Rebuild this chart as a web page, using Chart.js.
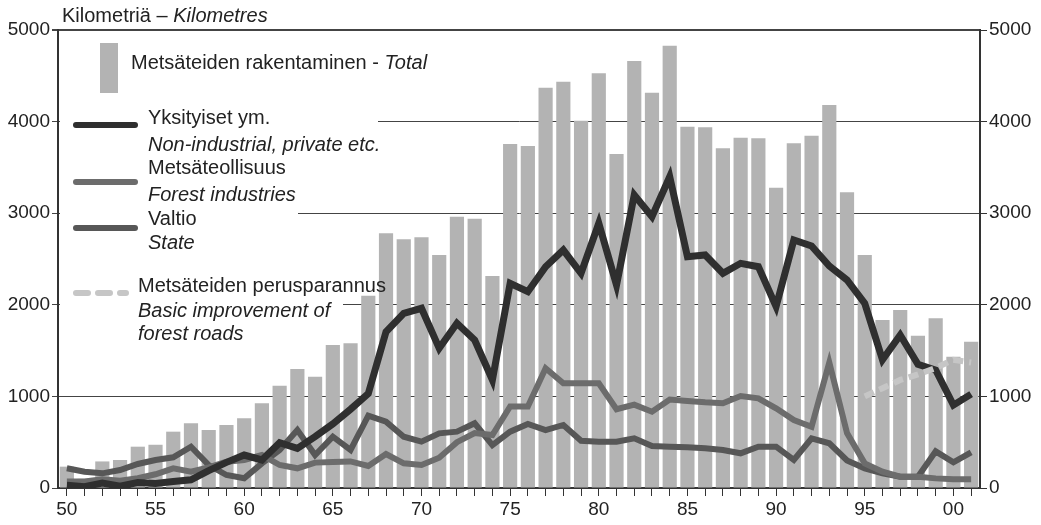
<!DOCTYPE html>
<html>
<head>
<meta charset="utf-8">
<script src="https://cdn.jsdelivr.net/npm/chart.js@4"></script>
<style>
  html, body { margin: 0; padding: 0; background: #fff; }
  #wrap { width: 1041px; height: 525px; }
</style>
</head>
<body>
<div id="wrap"><canvas id="roads" width="1041" height="525"></canvas></div>
<script>
// -----------------------------
// Data (km per year)
// -----------------------------
const years = [];
for (let y = 1950; y <= 2001; y++) years.push(y);

const xTickLabels = ["50", "55", "60", "65", "70", "75", "80", "85", "90", "95", "00"];
const yTicks = [0, 1000, 2000, 3000, 4000, 5000];

// Metsäteiden rakentaminen - Total
const totalKm = [
  233, 100, 290, 306, 451, 472, 615, 706, 633, 688,
  761, 924, 1117, 1299, 1215, 1561, 1579, 2100, 2780, 2715,
  2737, 2544, 2962, 2940, 2314, 3755, 3734, 4370, 4436, 4010,
  4527, 3646, 4662, 4316, 4829, 3944, 3937, 3708, 3824, 3817,
  3278, 3763, 3846, 4181, 3228, 2544, 1834, 1943, 1663, 1852,
  1433, 1597
];

// Yksityiset ym. - Non-industrial, private etc.
const privateKm = [
  30, 15, 55, 20, 60, 50, 70, 90, 190, 280,
  360, 306, 495, 433, 560, 700, 860, 1030, 1706, 1907,
  1962, 1525, 1798, 1616, 1179, 2235, 2143, 2416, 2598, 2344,
  2890, 2216, 3199, 2962, 3398, 2525, 2544, 2344, 2453, 2416,
  1980, 2707, 2642, 2424, 2271, 2016, 1400, 1670, 1350, 1288,
  905, 1025
];

// Metsäteollisuus - Forest industries
const industryKm = [
  70, 70, 95, 80, 106, 150, 215, 178, 226, 287,
  306, 360, 251, 215, 277, 284, 290, 240, 370, 269,
  251, 330, 500, 600, 579, 890, 890, 1307, 1143, 1143,
  1143, 860, 910, 833, 965, 950, 935, 925, 1004, 979,
  870, 742, 669, 1370, 600, 269, 178, 124, 124, 105,
  95, 95
];

// Valtio - State
const stateKm = [
  215, 178, 160, 196, 262, 306, 335, 451, 251, 142,
  106, 269, 415, 633, 360, 560, 415, 790, 724, 560,
  506, 597, 615, 706, 469, 615, 700, 633, 688, 515,
  506, 506, 542, 458, 451, 444, 433, 415, 379, 451,
  451, 306, 542, 488, 300, 215, 160, 124, 124, 400,
  280, 390
];

// Metsäteiden perusparannus - Basic improvement of forest roads (from 1995)
const improvementKm = [
  null, null, null, null, null, null, null, null, null, null,
  null, null, null, null, null, null, null, null, null, null,
  null, null, null, null, null, null, null, null, null, null,
  null, null, null, null, null, null, null, null, null, null,
  null, null, null, null, null, 1000, 1090, 1180, 1240, 1310,
  1400, 1370
];

// -----------------------------
// Styles
// -----------------------------
const FONT = "'Liberation Sans', Arial, sans-serif";
const TEXT = "#222";
const BAR_GRAY = "#b3b3b3";
const PRIVATE_COL = "#2f2f2f";
const INDUSTRY_COL = "#6c6c6c";
const STATE_COL = "#575757";
const IMPROVE_COL = "#c6c6c6";

// draws "normal" + "italic" pieces on one line
function mixedText(ctx, x, y, parts) {
  let cx = x;
  parts.forEach(p => {
    ctx.font = (p.italic ? "italic " : "") + "20px " + FONT;
    ctx.fillText(p.t, cx, y);
    cx += ctx.measureText(p.t).width;
  });
}

function lineSwatch(ctx, x1, x2, y, color, width, dash) {
  ctx.save();
  ctx.strokeStyle = color;
  ctx.lineWidth = width;
  ctx.lineCap = "round";
  ctx.setLineDash(dash || []);
  ctx.beginPath();
  ctx.moveTo(x1, y);
  ctx.lineTo(x2, y);
  ctx.stroke();
  ctx.restore();
}

// -----------------------------
// Legend / title plugin
// -----------------------------
const legendPlugin = {
  id: "roadLegend",
  beforeDatasetsDraw(chart) {
    // clear grid lines behind the legend texts
    const ctx = chart.ctx;
    const ys = chart.scales.y;
    ctx.save();
    ctx.fillStyle = "#fff";
    ctx.fillRect(60, ys.getPixelForValue(4000) - 3, 318, 6);
    ctx.fillRect(60, ys.getPixelForValue(3000) - 3, 238, 6);
    ctx.fillRect(60, ys.getPixelForValue(2000) - 3, 283, 6);
    ctx.restore();
  },
  afterDatasetsDraw(chart) {
    const ctx = chart.ctx;
    ctx.save();
    ctx.fillStyle = TEXT;
    ctx.textBaseline = "middle";
    ctx.textAlign = "left";

    mixedText(ctx, 62, 16, [{ t: "Kilometriä – " }, { t: "Kilometres", italic: true }]);

    // bar swatch
    ctx.fillStyle = BAR_GRAY;
    ctx.fillRect(100, 43, 18, 50);
    ctx.fillStyle = TEXT;
    mixedText(ctx, 131, 63, [{ t: "Metsäteiden rakentaminen - " }, { t: "Total", italic: true }]);

    lineSwatch(ctx, 76, 135, 125, PRIVATE_COL, 6);
    mixedText(ctx, 148, 118, [{ t: "Yksityiset ym." }]);
    mixedText(ctx, 148, 145, [{ t: "Non-industrial, private etc.", italic: true }]);

    lineSwatch(ctx, 76, 135, 182, INDUSTRY_COL, 6);
    mixedText(ctx, 148, 168, [{ t: "Metsäteollisuus" }]);
    mixedText(ctx, 148, 195, [{ t: "Forest industries", italic: true }]);

    lineSwatch(ctx, 76, 135, 228, STATE_COL, 6);
    mixedText(ctx, 148, 219, [{ t: "Valtio" }]);
    mixedText(ctx, 148, 243, [{ t: "State", italic: true }]);

    lineSwatch(ctx, 76, 126, 293, IMPROVE_COL, 6, [12, 10]);
    mixedText(ctx, 138, 286, [{ t: "Metsäteiden perusparannus" }]);
    mixedText(ctx, 138, 311, [{ t: "Basic improvement of", italic: true }]);
    mixedText(ctx, 138, 334, [{ t: "forest roads", italic: true }]);

    ctx.restore();
  }
};

// -----------------------------
// Chart
// -----------------------------
const ctx = document.getElementById("roads").getContext("2d");

const roadChart = new Chart(ctx, {
  type: "bar",
  data: {
    labels: years.map(y => String(y % 100).padStart(2, "0")),
    datasets: [
      {
        type: "line",
        label: "Metsäteiden perusparannus",
        data: improvementKm,
        borderColor: IMPROVE_COL,
        borderWidth: 6,
        borderDash: [10, 6],
        pointRadius: 0,
        fill: false,
        order: 0
      },
      {
        type: "line",
        label: "Yksityiset ym.",
        data: privateKm,
        borderColor: PRIVATE_COL,
        borderWidth: 7,
        pointRadius: 0,
        fill: false,
        order: 1
      },
      {
        type: "line",
        label: "Metsäteollisuus",
        data: industryKm,
        borderColor: INDUSTRY_COL,
        borderWidth: 6,
        pointRadius: 0,
        fill: false,
        order: 2
      },
      {
        type: "line",
        label: "Valtio",
        data: stateKm,
        borderColor: STATE_COL,
        borderWidth: 6,
        pointRadius: 0,
        fill: false,
        order: 3
      },
      {
        label: "Metsäteiden rakentaminen",
        data: totalKm,
        backgroundColor: BAR_GRAY,
        barPercentage: 0.8,
        categoryPercentage: 1,
        order: 10
      }
    ]
  },
  options: {
    responsive: false,
    animation: false,
    layout: { padding: { top: 30, left: 0, right: 0, bottom: 0 } },
    plugins: {
      legend: { display: false },
      tooltip: { enabled: false }
    },
    scales: {
      x: {
        offset: true,
        afterFit: s => { s.height = 37; },
        border: { color: "#333", width: 2 },
        grid: { offset: false, drawOnChartArea: false, tickLength: 8, color: "#333" },
        ticks: {
          autoSkip: false,
          maxRotation: 0,
          padding: 2,
          color: TEXT,
          font: { family: FONT, size: 19 },
          callback: function (val, i) {
            const lab = this.getLabelForValue(val);
            return xTickLabels.includes(lab) && years[i] % 5 === 0 ? lab : "";
          }
        }
      },
      y: {
        position: "left",
        min: 0,
        max: 5000,
        afterFit: s => { s.width = 58; },
        afterBuildTicks: s => { s.ticks = yTicks.map(v => ({ value: v })); },
        border: { color: "#333", width: 2 },
        grid: {
          color: "#444",
          lineWidth: c => (c.tick && c.tick.value === 5000 ? 2 : 1),
          tickLength: 6
        },
        ticks: { padding: 2, color: TEXT, font: { family: FONT, size: 19 }, callback: v => String(v) }
      },
      y2: {
        position: "right",
        min: 0,
        max: 5000,
        afterFit: s => { s.width = 61; },
        afterBuildTicks: s => { s.ticks = yTicks.map(v => ({ value: v })); },
        border: { color: "#333", width: 2 },
        grid: { drawOnChartArea: false, tickLength: 7, color: "#333" },
        ticks: { padding: 2, color: TEXT, font: { family: FONT, size: 19 }, callback: v => String(v) }
      }
    }
  },
  plugins: [legendPlugin]
});
</script>
</body>
</html>
